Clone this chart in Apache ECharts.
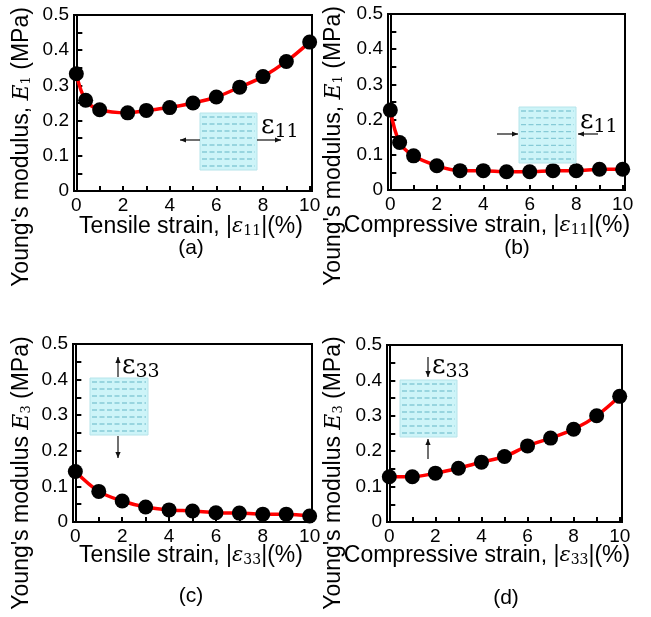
<!DOCTYPE html>
<html><head><meta charset="utf-8">
<script src="https://cdn.jsdelivr.net/npm/echarts@6/dist/echarts.min.js"></script>
<style>html,body{margin:0;padding:0;background:#fff}#c{width:651px;height:617px}</style>
</head><body><div id="c"></div>
<script>
// ---- data ----
const xA = [0, 0.4, 1, 2.2, 3, 4, 5, 6, 7, 8, 9, 10];
const yA = [0.333, 0.258, 0.231, 0.222, 0.229, 0.237, 0.250, 0.267, 0.295, 0.325, 0.368, 0.423];
const xB = [0, 0.4, 1, 2, 3, 4, 5, 6, 7, 8, 9, 10];
const yB = [0.227, 0.135, 0.097, 0.069, 0.055, 0.055, 0.052, 0.052, 0.055, 0.055, 0.059, 0.059];
const xC = [0, 1, 2, 3, 4, 5, 6, 7, 8, 9, 10];
const yC = [0.142, 0.086, 0.059, 0.042, 0.034, 0.031, 0.026, 0.025, 0.022, 0.022, 0.017];
const xD = [0, 1, 2, 3, 4, 5, 6, 7, 8, 9, 10];
const yD = [0.128, 0.128, 0.138, 0.152, 0.169, 0.185, 0.215, 0.237, 0.262, 0.300, 0.355];
const xTickLabels = [0, 2, 4, 6, 8, 10];
const xTickMarks = [0, 1, 2, 3, 4, 5, 6, 7, 8, 9, 10];
const xTitles = ['Tensile strain, |{e|ε}{s|11}|(%)', 'Compressive strain, |{e|ε}{s|11}|(%)',
                 'Tensile strain, |{e|ε}{s|33}|(%)', 'Compressive strain, |{e|ε}{s|33}|(%)'];
const yTitles = ["Young's modulus, {e|E}{s|1} (MPa)", "Young's modulus, {e|E}{s|1} (MPa)",
                 "Young's modulus {e|E}{s|3} (MPa)", "Young's modulus {e|E}{s|3} (MPa)"];
const panelLabels = ['(a)', '(b)', '(c)', '(d)'];
const strainLabels = ['11', '11', '33', '33'];

const FONT = 'Liberation Sans, Arial, sans-serif';
const SERIF = 'DejaVu Serif, Liberation Serif, serif';
const grids = [
  {left: 74, top: 15, width: 238, height: 176},
  {left: 388, top: 14, width: 237, height: 176},
  {left: 73, top: 344, width: 239, height: 178},
  {left: 387, top: 345, width: 235, height: 177}
];
const richX = {
  e: {fontFamily: SERIF, fontStyle: 'italic', fontSize: 21, fill: '#000'},
  s: {fontFamily: SERIF, fontSize: 14, fill: '#000', padding: [9, 0, 0, 0]}
};
const richY = {
  e: {fontFamily: SERIF, fontStyle: 'italic', fontSize: 22, fill: '#000'},
  s: {fontFamily: SERIF, fontSize: 13, fill: '#000', padding: [9, 0, 0, 0]}
};

const xs = [xA, xB, xC, xD], ys = [yA, yB, yC, yD];
const xAxes = [], yAxes = [], series = [];
grids.forEach((g, i) => {
  g.show = true; g.borderColor = '#000'; g.borderWidth = 2; g.containLabel = false;
  xAxes.push({
    gridIndex: i, type: 'value', min: -0.1, max: 10.1,
    axisLine: {show: true, lineStyle: {color: '#000', width: 2}},
    axisTick: {show: true, inside: true, length: 5, customValues: xTickMarks, lineStyle: {color: '#000', width: 2}},
    axisLabel: {customValues: xTickLabels, fontFamily: FONT, fontSize: 19, color: '#000', margin: 5},
    splitLine: {show: false}
  });
  yAxes.push({
    gridIndex: i, type: 'value', min: 0, max: 0.5, interval: 0.1,
    axisLine: {show: true, lineStyle: {color: '#000', width: 2}},
    axisTick: {show: true, inside: true, length: 6, lineStyle: {color: '#000', width: 2}},
    minorTick: {show: true, splitNumber: 2, length: 6, lineStyle: {color: '#000', width: 2}},
    axisLabel: {fontFamily: FONT, fontSize: 19, color: '#000', margin: 5},
    splitLine: {show: false}
  });
  series.push({
    type: 'line', xAxisIndex: i, yAxisIndex: i, smooth: 0.35, clip: false,
    data: xs[i].map((x, k) => [x, ys[i][k]]),
    symbol: 'circle', symbolSize: 15,
    lineStyle: {color: '#ff0000', width: 3.5},
    itemStyle: {color: '#000'}, z: 5
  });
});

// ---- decorations ----
const graphic = [];
// y titles
const yTitlePos = [[22, 147], [334, 146], [22, 473], [334, 473]];
yTitlePos.forEach((p, i) => {
  graphic.push({type: 'text', x: p[0], y: p[1], rotation: Math.PI / 2,
    style: {text: yTitles[i], rich: richY, font: '23px ' + FONT, fill: '#000', align: 'center', verticalAlign: 'middle'}});
});
// x titles
const xTitlePos = [[191, 227], [487, 226], [191, 556], [487, 556]];
xTitlePos.forEach((p, i) => {
  graphic.push({type: 'text', x: p[0], y: p[1],
    style: {text: xTitles[i], rich: richX, font: '23px ' + FONT, fill: '#000', align: 'center', verticalAlign: 'middle'}});
});
// panel labels
const panelPos = [[191, 248], [517, 248], [191, 596], [506, 598]];
panelPos.forEach((p, i) => {
  graphic.push({type: 'text', x: p[0], y: p[1],
    style: {text: panelLabels[i], font: '21px ' + FONT, fill: '#000', align: 'center', verticalAlign: 'middle'}});
});

function inset(x, y, w, h) {
  graphic.push({type: 'rect', shape: {x: x, y: y, width: w, height: h}, z: 10,
    style: {fill: '#cdf4f8', stroke: '#b6e4ea', lineWidth: 1}});
  for (let r = 0; r < 8; r++) {
    const yy = y + 4 + r * (h - 8) / 7;
    graphic.push({type: 'line', z: 11, shape: {x1: x + 2, y1: yy, x2: x + w - 2, y2: yy},
      style: {stroke: '#86cad6', lineWidth: 1.3, lineDash: [5, 2.5]}});
  }
}
function arrow(x1, y1, x2, y2) {
  graphic.push({type: 'line', z: 11, shape: {x1: x1, y1: y1, x2: x2, y2: y2}, style: {stroke: '#111', lineWidth: 1.2}});
  const a = Math.atan2(y2 - y1, x2 - x1), L = 6, W = 2.6;
  const bx = x2 - L * Math.cos(a), by = y2 - L * Math.sin(a);
  graphic.push({type: 'polygon', z: 11, shape: {points: [[x2, y2],
    [bx - W * Math.sin(a), by + W * Math.cos(a)], [bx + W * Math.sin(a), by - W * Math.cos(a)]]},
    style: {fill: '#111'}});
}
function epsLabel(x, y, sub) {
  graphic.push({type: 'text', x: x, y: y, z: 12,
    style: {text: '{e|ε}{s|' + sub + '}', align: 'left', verticalAlign: 'middle',
      rich: {e: {fontFamily: SERIF, fontSize: 26, fill: '#000'},
             s: {fontFamily: SERIF, fontSize: 19, fill: '#000', padding: [12, 0, 0, 0]}}}});
}
// (a)
inset(200, 113, 57, 57); arrow(200, 140, 180, 140); arrow(257, 140, 281, 140); epsLabel(261, 126, strainLabels[0]);
// (b)
inset(519, 107, 57, 56); arrow(497, 134, 518, 134); arrow(598, 134, 578, 134); epsLabel(580, 121, strainLabels[1]);
// (c)
inset(90, 378, 58, 57); arrow(118, 377, 118, 357); arrow(118, 436, 118, 458); epsLabel(122, 366, strainLabels[2]);
// (d)
inset(400, 380, 57, 57); arrow(428, 357, 428, 377); arrow(428, 459, 428, 439); epsLabel(432, 366, strainLabels[3]);

const chart = echarts.init(document.getElementById('c'), null, {renderer: 'canvas'});
chart.setOption({
  animation: false,
  backgroundColor: '#fff',
  grid: grids, xAxis: xAxes, yAxis: yAxes, series: series, graphic: graphic
});
</script></body></html>
